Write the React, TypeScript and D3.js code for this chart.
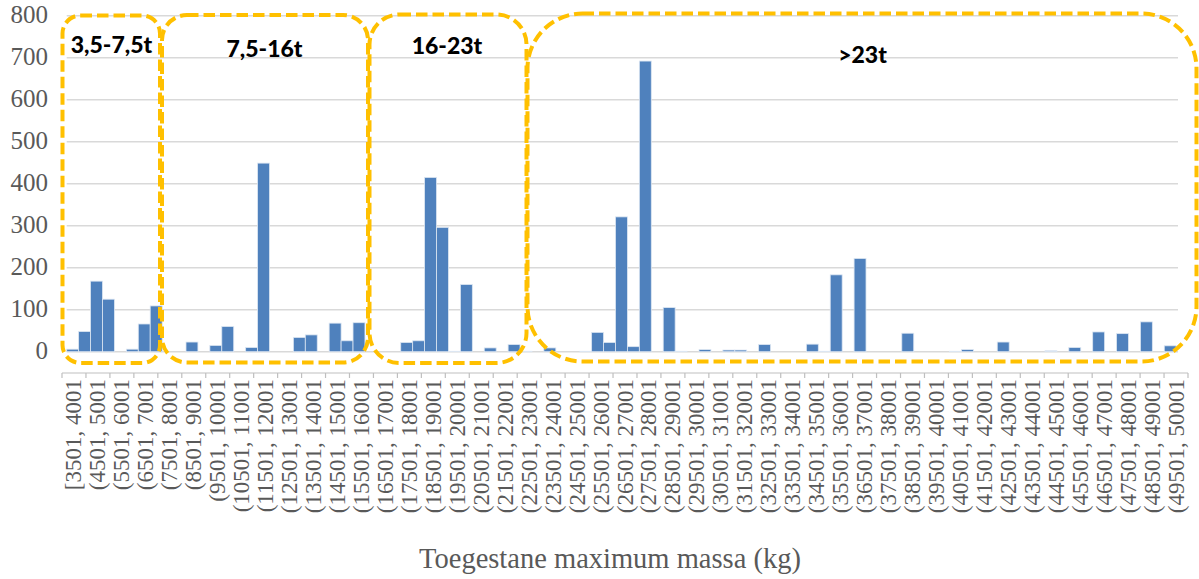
import React from "react";
import * as d3 from "d3";

// Histogram bins of 500 kg, from [3501, 4001] to (49501, 50001]
const binStarts: number[] = d3.range(3501, 50001, 500);
const counts: number[] = [
  6, 48, 168, 125, 0, 6, 66, 109, 0, 0,
  23, 0, 15, 60, 0, 10, 449, 0, 0, 34,
  40, 0, 68, 26, 69, 0, 0, 0, 22, 26,
  415, 296, 1, 160, 0, 9, 0, 17, 1, 0,
  9, 0, 0, 1, 46, 22, 321, 12, 692, 0,
  105, 1, 0, 5, 0, 4, 4, 0, 17, 0,
  0, 0, 18, 1, 183, 0, 222, 0, 0, 0,
  44, 0, 0, 0, 1, 5, 0, 0, 23, 0,
  0, 0, 2, 0, 10, 0, 47, 0, 43, 0,
  71, 0, 14,
];
const tickLabels: string[] = [
  "[3501, 4001", "(4501, 5001", "(5501, 6001", "(6501, 7001", "(7501, 8001",
  "(8501, 9001", "(9501, 10001", "(10501, 11001", "(11501, 12001", "(12501, 13001",
  "(13501, 14001", "(14501, 15001", "(15501, 16001", "(16501, 17001", "(17501, 18001",
  "(18501, 19001", "(19501, 20001", "(20501, 21001", "(21501, 22001", "(22501, 23001",
  "(23501, 24001", "(24501, 25001", "(25501, 26001", "(26501, 27001", "(27501, 28001",
  "(28501, 29001", "(29501, 30001", "(30501, 31001", "(31501, 32001", "(32501, 33001",
  "(33501, 34001", "(34501, 35001", "(35501, 36001", "(36501, 37001", "(37501, 38001",
  "(38501, 39001", "(39501, 40001", "(40501, 41001", "(41501, 42001", "(42501, 43001",
  "(43501, 44001", "(44501, 45001", "(45501, 46001", "(46501, 47001", "(47501, 48001",
  "(48501, 49001", "(49501, 50001",
];
const yTicks: number[] = [0, 100, 200, 300, 400, 500, 600, 700, 800];
const groupNames: string[] = ["3,5-7,5t", "7,5-16t", "16-23t", ">23t"];
const groupBounds: number[][] = [
  [3501, 7501],
  [7501, 16001],
  [16001, 23001],
  [23001, 50001],
];
const xTitle = "Toegestane maximum massa (kg)";

const W = 1199;
const H = 579;
const SERIF = "'Liberation Serif', 'DejaVu Serif', serif";

export default function App() {
  const x = d3
    .scaleBand<number>()
    .domain(binStarts)
    .range([66.7, 1176.2])
    .padding(0);
  const xAxis = d3.scaleBand<string>().domain(tickLabels).range([62, 1188]).padding(0);
  const y = d3.scaleLinear().domain([0, 800]).range([351.7, 15.7]);
  const axisY = 373;

  // group box geometry (visual layout)
  const boxes = [
    { x0: 62.5, x1: 160, y0: 15.5, y1: 363, r: 18, lx: 111.5, ly: 53 },
    { x0: 162, x1: 368, y0: 15, y1: 362.5, r: 25, lx: 264.5, ly: 57 },
    { x0: 369.5, x1: 526.5, y0: 14.5, y1: 363, r: 30, lx: 447, ly: 54 },
    { x0: 527.5, x1: 1196.5, y0: 13.5, y1: 361.5, r: 55, lx: 862.5, ly: 63 },
  ];

  const tickPositions = d3.range(tickLabels.length + 1).map(
    (i) => 62 + (1126 * i) / tickLabels.length
  );

  return (
    <svg
      width={W}
      height={H}
      style={{ position: "absolute", left: 0, top: 0, background: "#fff" }}
    >
      {/* gridlines */}
      {yTicks.map((t) => (
        <line
          key={"g" + t}
          x1={66.7}
          x2={1178}
          y1={y(t)}
          y2={y(t)}
          stroke="#d9d9d9"
          strokeWidth={1.5}
        />
      ))}
      {/* y labels */}
      {yTicks.map((t) => (
        <text
          key={"yl" + t}
          x={48}
          y={y(t) + 2}
          textAnchor="end"
          dominantBaseline="middle"
          fontFamily={SERIF}
          fontSize={25}
          fill="#595959"
        >
          {t}
        </text>
      ))}
      {/* bars */}
      {binStarts.map((b, i) =>
        counts[i] > 0 ? (
          <rect
            key={"b" + b}
            x={x(b)}
            width={x.bandwidth()}
            y={y(counts[i])}
            height={y(0) - y(counts[i])}
            fill="#4f81bd"
            stroke="#dce6f2"
            strokeWidth={0.8}
          />
        ) : null
      )}
      {/* category axis */}
      <line x1={62} x2={1188} y1={axisY} y2={axisY} stroke="#bfbfbf" strokeWidth={1.2} />
      {tickPositions.map((tx, i) => (
        <line
          key={"t" + i}
          x1={tx}
          x2={tx}
          y1={axisY}
          y2={axisY + 5}
          stroke="#bfbfbf"
          strokeWidth={1.2}
        />
      ))}
      {tickLabels.map((l) => {
        const cx = (xAxis(l) as number) + xAxis.bandwidth() / 2;
        return (
          <text
            key={"xl" + l}
            transform={`translate(${cx + 7.5},${axisY + 6}) rotate(-90)`}
            textAnchor="end"
            fontFamily={SERIF}
            fontSize={23}
            fill="#595959"
          >
            {l}
          </text>
        );
      })}
      {/* axis title */}
      <text
        x={610}
        y={568}
        textAnchor="middle"
        fontFamily={SERIF}
        fontSize={28.5}
        fill="#595959"
      >
        {xTitle}
      </text>
      {/* group boxes */}
      {boxes.map((bx, i) => (
        <g key={"box" + i}>
          <rect
            x={bx.x0}
            y={bx.y0}
            width={bx.x1 - bx.x0}
            height={bx.y1 - bx.y0}
            rx={bx.r}
            ry={bx.r}
            fill="none"
            stroke="#ffc000"
            strokeWidth={4}
            strokeDasharray="11.5,5"
          />
          <text
            x={bx.lx}
            y={bx.ly}
            textAnchor="middle"
            fontFamily="Lato, 'Open Sans', sans-serif"
            fontWeight="900"
            fontSize={23}
            fill="#000"
            data-range={groupBounds[i].join("-")}
          >
            {groupNames[i]}
          </text>
        </g>
      ))}
    </svg>
  );
}
